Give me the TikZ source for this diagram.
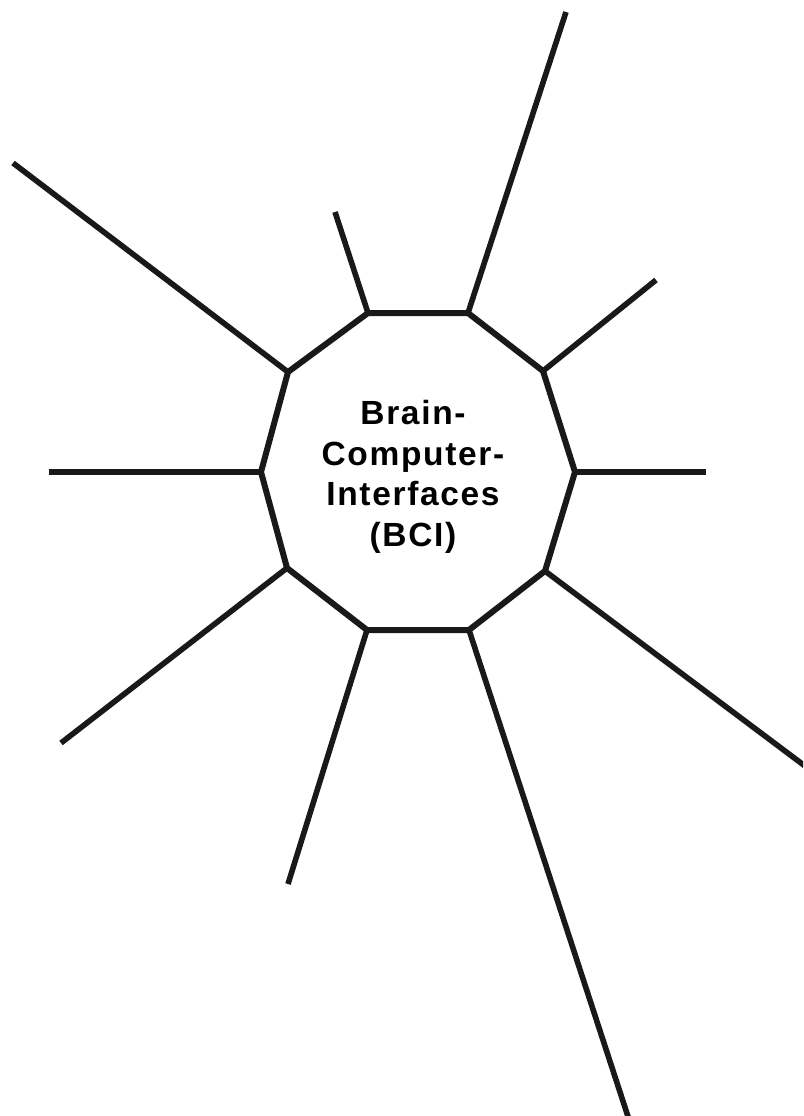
\documentclass[tikz,border=0pt]{standalone}
\usepackage{fontspec}
\setmainfont{Liberation Sans}
\newfontfamily\bcifont[LetterSpace=5]{Liberation Sans}
\tikzset{
  outline/.style={draw=black!90, line width=6pt, line join=miter},
  spoke/.style={draw=black!90, line width=5.6pt},
  title/.style={font=\bcifont\bfseries\fontsize{33.5}{40.5}\selectfont, align=center, inner sep=0pt}
}
\begin{document}
\begin{tikzpicture}[x=1pt,y=-1pt]
\useasboundingbox (0,0) rectangle (803,1116);
\clip (0,0) rectangle (803,1116);
% decagon vertices
\coordinate (v1) at (368,313);
\coordinate (v2) at (468,313);
\coordinate (v3) at (543,371);
\coordinate (v4) at (575,472);
\coordinate (v5) at (545,571);
\coordinate (v6) at (469,630);
\coordinate (v7) at (367,630);
\coordinate (v8) at (287,568);
\coordinate (v9) at (261,472);
\coordinate (v10) at (288,372);
% spoke ends
\coordinate (e1) at (335,212);
\coordinate (e2) at (566,12);
\coordinate (e3) at (656,280);
\coordinate (e4) at (706,472);
\coordinate (e5) at (825,781);
\coordinate (e6) at (636,1141);
\coordinate (e7) at (288,884);
\coordinate (e8) at (61,743);
\coordinate (e9) at (49,472);
\coordinate (e10) at (13,163);
\foreach \i in {1,...,10} {\draw[spoke] (v\i) -- (e\i);}
\draw[outline] (v1) -- (v2) -- (v3) -- (v4) -- (v5) -- (v6) -- (v7) -- (v8) -- (v9) -- (v10) -- cycle;
\node[title] (bci) at (413,477) {Brain-\\Computer-\\Interfaces\\(BCI)};
\end{tikzpicture}
\end{document}
